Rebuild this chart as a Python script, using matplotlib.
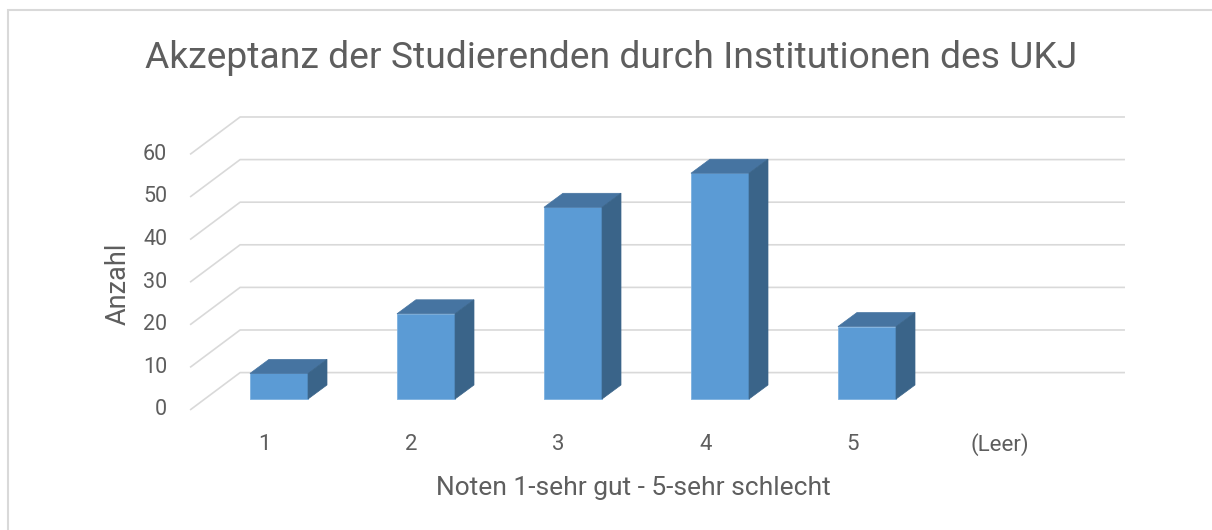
import numpy as np
import matplotlib
matplotlib.use("Agg")
import matplotlib.pyplot as plt
from matplotlib.patches import Polygon, Rectangle

kategorien = ["1", "2", "3", "4", "5", "(Leer)"]
anzahl = [6, 20, 45, 53, 17, 0]
y_ticks = [0, 10, 20, 30, 40, 50, 60]

titel = "Akzeptanz der Studierenden durch Institutionen des UKJ"
x_label = "Noten 1-sehr gut - 5-sehr schlecht"
y_label = "Anzahl"

c_front = "#5B9BD5"
c_top = "#4674A1"
c_side = "#3A6489"
c_grid = "#D9D9D9"
c_text = "#5E5E5E"

plt.rcParams['font.family'] = ['Roboto', 'DejaVu Sans']

W, H = 1212, 530
fig = plt.figure(figsize=(W / 100, H / 100), dpi=100)
ax = fig.add_axes([0, 0, 1, 1])
ax.set_xlim(-279 / 147, (W - 279) / 147)
ax.set_ylim((399 - H) / 4.26, 399 / 4.26)
ax.axis('off')

# pseudo 3d offsets (data units)
bar_w = 0.395
d_bar = (0.129, 3.29)      # depth of a bar
d_front = (-0.099, -2.58)  # front plane relative to bar front
d_back = (0.2415, 6.2)     # back wall relative to bar front
x_left_front = -0.605
x_left_back = x_left_front + (d_back[0] - d_front[0])
x_right_back = 5.755

for v in y_ticks:
    ax.plot([x_left_front, x_left_back, x_right_back],
            [v + d_front[1], v + d_back[1], v + d_back[1]],
            color=c_grid, lw=1.2, zorder=1, solid_capstyle='butt')
    ax.text(x_left_front - 0.155, v + d_front[1], str(v), ha='right', va='center',
            fontsize=15.5, color=c_text)

xs = np.arange(len(kategorien))
for x, v in zip(xs, anzahl):
    if v > 0:
        l, r = x - bar_w / 2, x + bar_w / 2
        ax.bar(x, v, width=bar_w, color=c_front, edgecolor="#7DB1E0", lw=0.6, zorder=3)
        ax.add_patch(Polygon([(l, v), (r, v), (r + d_bar[0], v + d_bar[1]),
                              (l + d_bar[0], v + d_bar[1])],
                             closed=True, facecolor=c_top, edgecolor=c_top, lw=0.5, zorder=3))
        ax.add_patch(Polygon([(r, 0), (r + d_bar[0], d_bar[1]), (r + d_bar[0], v + d_bar[1]),
                              (r, v)],
                             closed=True, facecolor=c_side, edgecolor=c_side, lw=0.5, zorder=3))
    ax.text(x + d_front[0], d_front[1] - 8.1, kategorien[x], ha='center', va='center',
            fontsize=16, color=c_text)

fig.text(611 / W, 1 - 58 / H, titel, ha='center', va='center', fontsize=26.8, color=c_text)
fig.text(633 / W, 1 - 488 / H, x_label, ha='center', va='center', fontsize=19, color=c_text)
fig.text(118 / W, 1 - 284 / H, y_label, ha='center', va='center', fontsize=19.5,
         color=c_text, rotation=90)

fig.patches.append(Rectangle((7.5 / W, -0.1), 1.2, 1 - 9.5 / H + 0.1, transform=fig.transFigure,
                             fill=False, edgecolor="#D9D9D9", lw=1.5))

fig.savefig("out.png", dpi=100)
